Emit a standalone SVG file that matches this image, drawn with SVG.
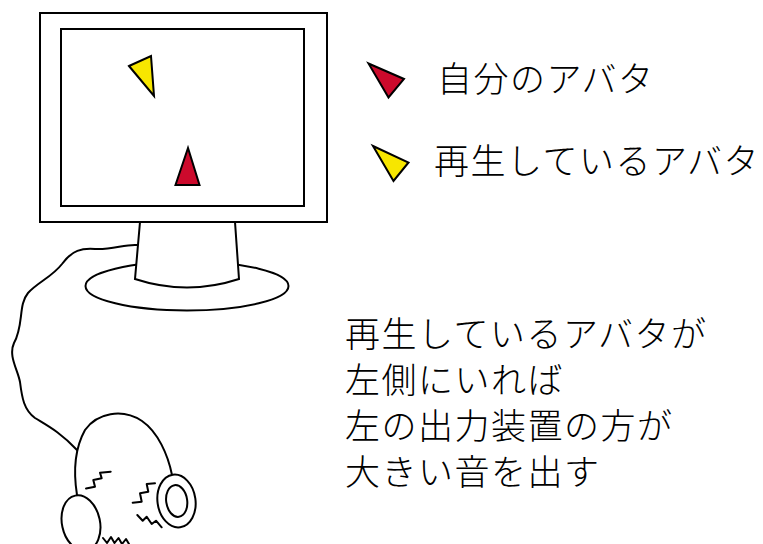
<svg xmlns="http://www.w3.org/2000/svg" width="763" height="544" viewBox="0 0 763 544">
  <style>
    .ln { fill: none; stroke: #000; stroke-width: 2; stroke-linejoin: round; stroke-linecap: round; }
    .wf { fill: #fff; stroke: #000; stroke-width: 2; }
    .red { fill: #cc0a2c; stroke: #000; stroke-width: 2; stroke-linejoin: miter; }
    .yel { fill: #f7e600; stroke: #000; stroke-width: 2; stroke-linejoin: miter; }
    .jp { font-family: "Noto Sans CJK JP", "Noto Sans CJK SC", sans-serif; font-size: 35px; font-weight: 300; letter-spacing: 1.5px; fill: #000; }
  </style>
  <rect width="763" height="544" fill="#fff"/>

  <!-- cable from the stand to the headphones -->
  <g id="connectors">
    <path class="ln" d="M137,245 C125,244 112,250 95,249 C82,248 72,250 62,264 C52,277 38,282 28,293 C18,305 24,325 14,343 C8,356 18,370 20,382 C22,398 24,410 35,418 C48,426 60,432 77,450"/>
  </g>

  <!-- monitor: base, neck, frame, screen -->
  <g id="monitor">
    <ellipse class="wf" cx="187" cy="286" rx="101.5" ry="24.5"/>
    <path class="wf" d="M140,222 L235,222 L239,279 Q187,296 135,279 Z"/>
    <rect class="wf" x="40" y="13" width="287" height="209"/>
    <rect class="wf" x="61" y="29" width="243" height="177"/>
  </g>

  <!-- avatars on screen -->
  <g id="avatar-other">
    <polygon class="yel" points="129,66 151,56 154,96"/>
  </g>
  <g id="avatar-self">
    <polygon class="red" points="188,148 175.5,185 199.5,185"/>
  </g>

  <!-- legend -->
  <g id="legend-self">
    <polygon class="red" points="368.5,63.5 404,79 388.5,97.5"/>
    <text class="jp" x="437" y="92">自分のアバタ</text>
  </g>
  <g id="legend-other">
    <polygon class="yel" points="373,146 408.5,162.5 393.5,181"/>
    <text class="jp" x="434" y="174" font-size="36">再生しているアバタ</text>
  </g>

  <!-- head with headphones -->
  <g id="listener">
    <path class="ln" d="M77,495 C73,470 75,448 85,430 C97,413 122,408 142,421 C158,432 168,455 172,475"/>
    <ellipse class="wf" cx="81" cy="523" rx="19" ry="28" transform="rotate(-12 81 523)"/>
    <ellipse class="wf" cx="176.5" cy="501" rx="19" ry="26.5" transform="rotate(-8 176.5 501)"/>
    <ellipse class="ln" cx="176.7" cy="501" rx="10.5" ry="16" transform="rotate(-8 176.7 501)"/>
    <polyline class="ln" points="86,488.5 95,486.7 93.3,480 101.7,478.3 100,472.7 110.7,471.7"/>
    <polyline class="ln" points="132.7,502.7 141.7,501.7 140,493.3 148.3,491.7 146.7,484 155,483.3"/>
    <polyline class="ln" points="137.3,515 142.7,520.7 146.7,516.7 151.7,524 156,520.7 161.7,527.3"/>
    <polyline class="ln" points="103,538 107,543 111,537 114.5,543 118.5,538 122,544 126,539 129,544"/>
  </g>

  <!-- explanation -->
  <g id="caption">
    <text class="jp" x="345" y="347" font-size="36">再生しているアバタが</text>
    <text class="jp" x="345" y="393" font-size="36">左側にいれば</text>
    <text class="jp" x="345" y="439" font-size="36">左の出力装置の方が</text>
    <text class="jp" x="345" y="485" font-size="36">大きい音を出す</text>
  </g>
</svg>
